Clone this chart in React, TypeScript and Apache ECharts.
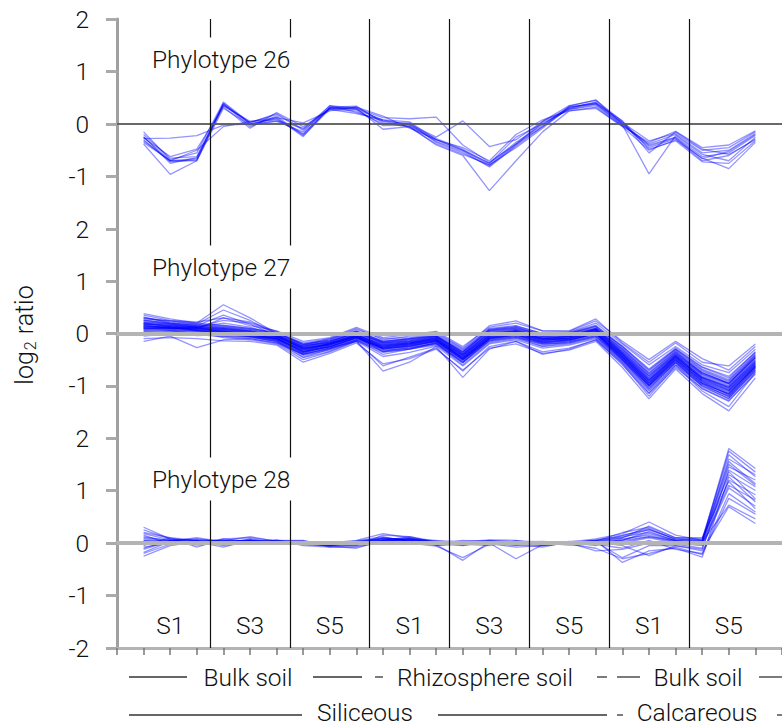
import React, { useEffect, useRef } from 'react';
import * as echarts from 'echarts';

// sample positions along the x axis (8 groups x 3 samples)
const POSITIONS = [1, 2, 3, 4, 5, 6, 7, 8, 9, 10, 11, 12, 13, 14, 15, 16, 17, 18, 19, 20, 21, 22, 23, 24];
const DIVIDERS = [3.5, 6.5, 9.5, 12.5, 15.5, 18.5, 21.5];
const GROUP_LABELS = ['S1', 'S3', 'S5', 'S1', 'S3', 'S5', 'S1', 'S5'];
const GROUP_CENTERS = [2, 5, 8, 11, 14, 17, 20, 23];
const GROUP_LABEL_Y = -1.57;
const PANEL_NAMES = ['Phylotype 26', 'Phylotype 27', 'Phylotype 28'];
const Y_MIN = -2;
const Y_MAX = 2;

const P26: number[][] = [
  [-0.25, -0.70, -0.66, 0.40, 0.00, 0.10, -0.18, 0.30, 0.32, 0.05, -0.05, -0.30, -0.50, -0.78, -0.38, -0.05, 0.30, 0.42, 0.02, -0.40, -0.25, -0.62, -0.55, -0.22],
  [-0.30, -0.72, -0.68, 0.35, 0.05, 0.08, -0.20, 0.32, 0.28, 0.08, -0.02, -0.28, -0.48, -0.75, -0.35, -0.02, 0.33, 0.38, 0.00, -0.45, -0.28, -0.70, -0.60, -0.28],
  [-0.20, -0.65, -0.62, 0.38, -0.05, 0.15, -0.22, 0.28, 0.25, 0.00, 0.02, -0.35, -0.55, -0.80, -0.40, 0.02, 0.28, 0.35, -0.03, -0.38, -0.20, -0.55, -0.50, -0.18],
  [-0.38, -0.96, -0.70, 0.30, -0.02, 0.05, -0.15, 0.35, 0.30, -0.10, -0.05, -0.40, -0.60, -1.27, -0.70, -0.15, 0.25, 0.30, -0.05, -0.50, -0.30, -0.65, -0.85, -0.35],
  [-0.28, -0.27, -0.22, -0.02, 0.00, 0.06, -0.08, 0.30, 0.30, 0.12, 0.10, 0.13, -0.40, -0.73, -0.38, 0.05, 0.35, 0.45, 0.05, -0.55, -0.15, -0.48, -0.58, -0.30],
  [-0.15, -0.68, -0.55, 0.42, 0.02, 0.20, -0.10, 0.35, 0.22, 0.06, 0.00, -0.25, 0.06, -0.43, -0.30, 0.05, 0.30, 0.40, 0.03, -0.32, -0.18, -0.50, -0.45, -0.15],
  [-0.32, -0.70, -0.50, -0.05, 0.05, 0.12, 0.02, 0.25, 0.32, 0.15, -0.08, -0.30, -0.50, -0.75, -0.25, 0.00, 0.28, 0.38, -0.02, -0.95, -0.22, -0.58, -0.70, -0.25],
  [-0.24, -0.75, -0.64, 0.36, 0.03, 0.18, -0.12, 0.30, 0.28, -0.03, -0.02, -0.33, -0.52, -0.82, -0.42, -0.05, 0.34, 0.46, 0.00, -0.42, -0.26, -0.66, -0.52, -0.20],
  [-0.26, -0.62, -0.48, 0.33, -0.08, 0.22, -0.05, 0.28, 0.20, 0.08, 0.04, -0.30, -0.45, -0.70, -0.20, 0.08, 0.25, 0.32, -0.04, -0.35, -0.14, -0.45, -0.40, -0.13],
  [-0.35, -0.70, -0.70, 0.38, 0.00, 0.12, -0.24, 0.32, 0.34, 0.02, -0.06, -0.38, -0.58, -0.78, -0.45, -0.08, 0.32, 0.40, 0.06, -0.48, -0.32, -0.72, -0.75, -0.32],
];

const P27: number[][] = [
  [0.20, 0.15, 0.12, 0.10, 0.05, -0.05, -0.28, -0.18, -0.02, -0.20, -0.15, -0.08, -0.40, 0.02, 0.05, -0.08, -0.05, 0.08, -0.35, -0.85, -0.40, -0.80, -1.00, -0.50],
  [0.10, 0.08, 0.05, 0.00, -0.05, -0.10, -0.35, -0.25, -0.08, -0.30, -0.25, -0.15, -0.50, -0.10, -0.02, -0.15, -0.12, 0.00, -0.45, -0.95, -0.50, -0.90, -1.10, -0.60],
  [0.38, 0.28, 0.20, 0.55, 0.30, 0.00, -0.22, -0.10, 0.05, -0.15, -0.10, -0.05, -0.35, 0.05, 0.10, -0.02, 0.00, 0.12, -0.25, -0.70, -0.30, -0.65, -0.85, -0.35],
  [0.30, 0.22, 0.18, 0.45, 0.25, -0.02, -0.25, -0.15, 0.00, -0.18, -0.12, -0.06, -0.38, 0.00, 0.06, -0.05, -0.02, 0.10, -0.30, -0.78, -0.35, -0.75, -0.95, -0.42],
  [0.25, 0.20, 0.15, 0.35, 0.18, -0.04, -0.30, -0.20, -0.04, -0.22, -0.18, -0.10, -0.42, -0.02, 0.04, -0.10, -0.06, 0.06, -0.38, -0.88, -0.42, -0.82, -1.02, -0.52],
  [0.05, 0.05, 0.00, -0.05, -0.08, -0.15, -0.45, -0.30, -0.12, -0.40, -0.30, -0.20, -0.60, -0.18, -0.10, -0.25, -0.20, -0.08, -0.55, -1.10, -0.60, -1.00, -1.25, -0.70],
  [-0.15, -0.05, -0.27, -0.12, -0.10, -0.18, -0.40, -0.28, -0.15, -0.72, -0.55, -0.25, -0.84, -0.30, -0.15, -0.40, -0.30, -0.12, -0.60, -1.15, -0.65, -1.05, -1.28, -0.78],
  [0.18, 0.14, 0.10, 0.08, 0.02, -0.06, -0.28, -0.22, -0.06, -0.28, -0.22, -0.14, -0.46, -0.06, 0.00, -0.12, -0.10, 0.04, -0.42, -0.92, -0.46, -0.86, -1.06, -0.56],
  [0.22, 0.18, 0.14, 0.12, 0.08, -0.02, -0.20, -0.12, 0.08, -0.10, -0.08, 0.00, -0.30, 0.10, 0.15, 0.00, 0.02, 0.20, -0.20, -0.60, -0.25, -0.60, -0.75, -0.30],
  [0.12, 0.10, 0.06, 0.02, -0.02, -0.12, -0.38, -0.28, -0.10, -0.32, -0.28, -0.18, -0.52, -0.12, -0.06, -0.20, -0.16, -0.04, -0.50, -1.00, -0.52, -0.95, -1.15, -0.62],
  [-0.05, 0.00, 0.02, -0.08, -0.12, -0.20, -0.50, -0.35, -0.15, -0.62, -0.45, -0.28, -0.72, -0.25, -0.15, -0.35, -0.28, -0.12, -0.58, -1.20, -0.62, -1.10, -1.40, -0.75],
  [0.28, 0.24, 0.18, 0.15, 0.10, 0.00, -0.18, -0.10, 0.10, -0.12, -0.05, 0.02, -0.28, 0.15, 0.24, 0.05, 0.05, 0.28, -0.18, -0.55, -0.18, -0.55, -0.62, -0.20],
  [0.15, 0.10, 0.08, 0.04, 0.00, -0.10, -0.32, -0.25, -0.08, -0.26, -0.20, -0.12, -0.44, -0.04, 0.02, -0.14, -0.08, 0.06, -0.40, -0.95, -0.45, -0.88, -1.08, -0.58],
  [0.08, 0.12, 0.10, 0.06, 0.02, -0.08, -0.35, -0.18, -0.02, -0.24, -0.18, -0.10, -0.48, -0.08, 0.00, -0.10, -0.10, 0.02, -0.44, -0.98, -0.48, -0.92, -1.12, -0.64],
  [0.20, 0.16, 0.12, 0.20, 0.12, -0.02, -0.26, -0.16, 0.02, -0.18, -0.14, -0.06, -0.38, 0.04, 0.08, -0.06, -0.04, 0.10, -0.32, -0.80, -0.38, -0.78, -0.98, -0.48],
  [0.00, 0.02, -0.04, -0.02, -0.06, -0.14, -0.42, -0.32, -0.14, -0.36, -0.30, -0.22, -0.56, -0.16, -0.08, -0.24, -0.18, -0.06, -0.52, -1.05, -0.56, -0.98, -1.20, -0.68],
  [0.32, 0.20, 0.16, 0.12, 0.06, -0.04, -0.24, -0.14, 0.00, -0.16, -0.12, -0.04, -0.36, 0.06, 0.12, -0.04, 0.00, 0.14, -0.28, -0.75, -0.32, -0.70, -0.90, -0.40],
  [0.14, 0.12, 0.08, 0.06, 0.00, -0.08, -0.30, -0.20, -0.06, -0.24, -0.20, -0.12, -0.46, -0.06, 0.00, -0.14, -0.08, 0.04, -0.40, -0.90, -0.44, -0.84, -1.04, -0.54],
  [-0.10, -0.08, -0.10, -0.14, -0.15, -0.22, -0.55, -0.38, -0.18, -0.58, -0.48, -0.30, -0.70, -0.28, -0.20, -0.38, -0.32, -0.15, -0.65, -1.25, -0.68, -1.15, -1.48, -0.85],
  [0.18, 0.14, 0.12, 0.25, 0.20, 0.02, -0.22, -0.18, -0.02, -0.20, -0.16, -0.08, -0.40, 0.00, 0.04, -0.10, -0.06, 0.08, -0.36, -0.82, -0.40, -0.78, -0.96, -0.46],
  [0.25, 0.18, 0.12, 0.08, 0.04, -0.06, -0.28, -0.20, -0.04, -0.22, -0.16, -0.10, -0.42, -0.02, 0.06, -0.08, -0.06, 0.08, -0.38, -0.85, -0.38, -0.75, -0.95, -0.45],
  [0.10, 0.06, 0.04, 0.00, -0.04, -0.12, -0.36, -0.26, -0.10, -0.30, -0.24, -0.16, -0.50, -0.10, -0.04, -0.18, -0.14, -0.02, -0.48, -1.00, -0.50, -0.92, -1.18, -0.66],
  [0.35, 0.25, 0.22, 0.30, 0.15, 0.05, -0.15, -0.08, 0.12, -0.08, -0.02, 0.04, -0.25, 0.12, 0.20, 0.05, 0.04, 0.24, -0.15, -0.50, -0.15, -0.48, -0.70, -0.25],
  [0.16, 0.12, 0.10, 0.05, -0.02, -0.10, -0.32, -0.22, -0.06, -0.28, -0.22, -0.14, -0.48, -0.06, 0.02, -0.12, -0.10, 0.02, -0.42, -0.92, -0.44, -0.88, -1.10, -0.60],
  [0.02, 0.04, 0.00, -0.04, -0.06, -0.16, -0.40, -0.30, -0.12, -0.34, -0.26, -0.20, -0.54, -0.14, -0.06, -0.22, -0.16, -0.04, -0.50, -1.02, -0.54, -0.96, -1.22, -0.70],
  [0.22, 0.18, 0.14, 0.10, 0.05, -0.04, -0.26, -0.18, -0.02, -0.22, -0.18, -0.08, -0.40, 0.02, 0.08, -0.06, -0.04, 0.08, -0.34, -0.82, -0.36, -0.76, -0.96, -0.46],
  [0.12, 0.08, 0.05, 0.02, -0.03, -0.10, -0.34, -0.24, -0.08, -0.28, -0.22, -0.14, -0.46, -0.08, -0.02, -0.16, -0.12, 0.00, -0.46, -0.96, -0.48, -0.90, -1.14, -0.62],
  [0.08, 0.10, 0.12, 0.02, -0.05, -0.12, -0.38, -0.22, -0.06, -0.35, -0.30, -0.18, -0.55, -0.10, -0.02, -0.18, -0.14, 0.00, -0.50, -1.05, -0.55, -1.00, -1.20, -0.65],
  [0.18, 0.16, 0.12, 0.10, 0.04, -0.06, -0.30, -0.22, -0.04, -0.26, -0.20, -0.10, -0.44, -0.04, 0.04, -0.10, -0.06, 0.06, -0.38, -0.88, -0.42, -0.84, -1.02, -0.52],
  [0.26, 0.20, 0.16, 0.14, 0.08, -0.02, -0.24, -0.16, 0.02, -0.18, -0.14, -0.06, -0.36, 0.06, 0.10, -0.04, -0.02, 0.10, -0.30, -0.76, -0.34, -0.72, -0.92, -0.42],
  [0.06, 0.06, 0.02, -0.02, -0.06, -0.14, -0.40, -0.28, -0.12, -0.34, -0.28, -0.18, -0.56, -0.14, -0.08, -0.20, -0.18, -0.06, -0.52, -1.08, -0.56, -1.02, -1.24, -0.72],
  [0.16, 0.10, 0.08, 0.30, 0.22, 0.04, -0.20, -0.14, 0.04, -0.16, -0.10, -0.04, -0.34, 0.08, 0.12, -0.02, 0.00, 0.14, -0.26, -0.72, -0.30, -0.68, -0.88, -0.38],
  [0.12, 0.14, 0.08, 0.04, 0.00, -0.08, -0.32, -0.20, -0.04, -0.26, -0.20, -0.12, -0.48, -0.08, 0.00, -0.12, -0.10, 0.02, -0.44, -0.94, -0.46, -0.86, -1.08, -0.58],
  [0.20, 0.12, 0.06, 0.02, -0.02, -0.10, -0.34, -0.26, -0.08, -0.30, -0.24, -0.16, -0.50, -0.12, -0.04, -0.18, -0.12, 0.00, -0.46, -0.98, -0.50, -0.94, -1.16, -0.64],
  [0.30, 0.24, 0.20, 0.16, 0.10, 0.02, -0.22, -0.12, 0.04, -0.14, -0.10, -0.02, -0.32, 0.08, 0.14, 0.00, 0.02, 0.16, -0.24, -0.68, -0.28, -0.64, -0.82, -0.36],
  [0.04, 0.00, -0.02, -0.06, -0.10, -0.18, -0.46, -0.34, -0.14, -0.44, -0.36, -0.24, -0.62, -0.20, -0.12, -0.28, -0.22, -0.10, -0.56, -1.14, -0.60, -1.06, -1.30, -0.74],
  [0.14, 0.10, 0.10, 0.08, 0.02, -0.06, -0.28, -0.20, -0.06, -0.24, -0.18, -0.12, -0.42, -0.04, 0.02, -0.10, -0.08, 0.04, -0.40, -0.90, -0.42, -0.84, -1.04, -0.56],
  [0.10, 0.12, 0.06, 0.04, -0.02, -0.10, -0.36, -0.24, -0.08, -0.28, -0.24, -0.14, -0.50, -0.10, -0.02, -0.16, -0.12, 0.00, -0.48, -1.00, -0.52, -0.96, -1.16, -0.62],
];

const P28: number[][] = [
  [0.30, 0.08, 0.05, 0.05, 0.02, 0.00, -0.02, 0.00, 0.05, 0.18, 0.10, 0.02, 0.00, 0.05, 0.02, -0.03, 0.02, 0.08, 0.18, 0.40, 0.15, 0.05, 1.80, 1.42],
  [-0.25, -0.05, 0.02, -0.08, 0.05, 0.02, 0.00, -0.05, -0.02, 0.05, 0.12, 0.00, -0.05, 0.03, -0.05, 0.00, 0.02, 0.00, 0.10, 0.32, 0.10, 0.08, 1.68, 1.26],
  [0.20, 0.10, -0.08, 0.08, 0.10, 0.04, 0.03, -0.02, 0.02, 0.10, 0.05, -0.02, 0.05, 0.02, 0.00, -0.05, 0.00, 0.05, 0.15, 0.25, 0.08, 0.05, 1.55, 1.13],
  [-0.18, 0.03, 0.10, 0.02, 0.00, 0.05, 0.05, -0.08, -0.08, 0.02, 0.08, 0.05, -0.02, -0.05, 0.04, 0.02, -0.02, 0.02, -0.05, -0.24, -0.05, -0.12, 1.39, 1.07],
  [0.10, 0.05, 0.00, 0.04, 0.12, 0.03, 0.02, -0.03, 0.04, 0.12, 0.02, -0.03, -0.33, 0.02, -0.02, -0.08, 0.02, -0.02, 0.05, 0.12, 0.05, -0.02, 1.36, 0.84],
  [0.05, 0.00, 0.02, 0.00, 0.05, -0.02, 0.00, -0.06, -0.10, 0.05, 0.10, -0.05, -0.02, 0.00, -0.30, -0.03, 0.00, 0.05, -0.37, -0.15, -0.10, -0.27, 1.26, 0.78],
  [-0.05, 0.10, 0.05, -0.05, 0.02, 0.06, -0.05, -0.08, -0.05, 0.15, 0.12, 0.03, 0.02, 0.06, 0.05, -0.02, 0.02, 0.03, 0.20, 0.30, 0.10, 0.10, 1.17, 0.65],
  [0.15, -0.02, -0.02, 0.05, 0.05, 0.00, 0.02, -0.04, 0.00, 0.08, 0.08, 0.00, -0.04, 0.02, 0.00, 0.00, -0.04, -0.02, -0.10, 0.05, -0.12, -0.20, 0.94, 0.59],
  [-0.10, 0.05, 0.08, 0.02, -0.02, 0.04, 0.04, -0.02, -0.06, 0.03, 0.02, 0.04, 0.03, 0.04, 0.02, 0.03, 0.00, 0.06, 0.12, 0.20, 0.05, 0.02, 0.72, 0.46],
  [0.00, 0.02, 0.00, 0.08, 0.02, 0.02, -0.03, -0.06, 0.02, 0.06, 0.06, -0.04, 0.00, 0.00, 0.02, -0.02, 0.03, 0.02, -0.28, -0.05, -0.05, -0.15, 0.69, 0.37],
  [0.25, 0.08, 0.04, -0.02, 0.08, 0.00, 0.00, 0.00, -0.04, 0.10, 0.04, 0.02, -0.03, -0.02, -0.04, 0.00, 0.01, -0.05, 0.08, 0.15, 0.02, 0.00, 1.45, 1.20],
  [-0.20, -0.02, 0.06, 0.03, 0.00, 0.03, 0.02, -0.03, 0.00, 0.04, 0.03, 0.00, 0.02, 0.02, 0.03, -0.04, 0.00, 0.04, 0.00, 0.10, 0.00, -0.05, 1.05, 0.70],
  [0.05, 0.03, -0.04, 0.00, 0.06, -0.02, 0.01, -0.04, -0.03, 0.02, 0.00, -0.06, -0.28, -0.02, -0.02, 0.00, -0.02, -0.10, -0.30, -0.20, -0.08, -0.22, 0.85, 0.55],
  [0.00, 0.06, 0.02, 0.05, 0.03, 0.05, -0.02, -0.05, 0.03, 0.08, 0.07, 0.02, 0.01, 0.03, 0.01, 0.02, 0.02, 0.00, 0.05, 0.22, 0.04, 0.02, 1.60, 1.30],
  [-0.08, 0.00, 0.03, -0.03, 0.02, -0.01, 0.03, -0.02, -0.01, 0.05, 0.05, -0.02, 0.00, -0.01, -0.08, -0.05, 0.00, -0.15, -0.12, 0.00, -0.02, -0.10, 1.20, 0.92],
  [0.12, 0.04, 0.05, 0.02, 0.00, 0.01, 0.00, -0.01, 0.02, 0.02, 0.09, 0.01, -0.02, 0.01, 0.03, 0.01, -0.01, 0.01, 0.14, 0.28, 0.06, 0.06, 1.30, 1.00],
  [0.08, 0.02, 0.03, 0.00, 0.04, 0.02, 0.01, -0.03, 0.00, 0.06, 0.06, 0.00, 0.00, 0.02, 0.00, -0.02, 0.01, 0.02, 0.06, 0.18, 0.04, 0.03, 1.50, 1.10],
  [-0.12, 0.04, 0.00, 0.03, 0.02, 0.00, 0.02, -0.04, -0.02, 0.04, 0.04, -0.02, -0.02, 0.02, -0.02, -0.01, 0.00, 0.03, 0.02, 0.12, 0.02, 0.00, 1.10, 0.82],
  [0.18, 0.06, 0.02, 0.02, 0.06, 0.02, -0.01, -0.02, 0.03, 0.09, 0.07, 0.01, 0.01, 0.03, 0.01, 0.00, 0.01, 0.04, 0.10, 0.26, 0.08, 0.04, 1.75, 1.35],
];

const PANELS = [P26, P27, P28];

const FONT = 'Roboto, "Liberation Sans", sans-serif';
const FONT_SIZE = 24.5;
const TEXT_COLOR = '#111';
const LINE_COLOR = 'rgba(0, 0, 255, 0.42)';

export default function App() {
  const ref = useRef<HTMLDivElement>(null);

  useEffect(() => {
    const chart = echarts.init(ref.current!, null, { renderer: 'svg' });

    const grids = [
      { left: 117, top: 19, width: 667, height: 210 },
      { left: 117, top: 229, width: 667, height: 209 },
      { left: 117, top: 438, width: 667, height: 210 },
    ];

    const baseX = {
      type: 'value',
      min: 0,
      max: 25,
      interval: 1,
      axisLabel: { show: false },
      splitLine: { show: false },
    };

    const xAxis: any[] = [
      { ...baseX, gridIndex: 0, position: 'top', axisLine: { lineStyle: { color: '#444', width: 1.5 } }, axisTick: { show: false } },
      { ...baseX, gridIndex: 1, position: 'top', axisLine: { lineStyle: { color: '#b4b4b4', width: 4 } }, axisTick: { show: false } },
      { ...baseX, gridIndex: 2, position: 'top', axisLine: { lineStyle: { color: '#b4b4b4', width: 4 } }, axisTick: { show: false } },
      {
        ...baseX, gridIndex: 2, position: 'bottom',
        axisLine: { lineStyle: { color: '#b4b4b4', width: 3 } },
        axisTick: { show: true, length: 7, lineStyle: { color: '#777', width: 1.5 } },
      },
    ];

    const yAxis: any[] = grids.map((_, gi) => ({
      type: 'value',
      gridIndex: gi,
      min: Y_MIN,
      max: Y_MAX,
      interval: 1,
      axisLine: { show: true, lineStyle: { color: '#a0a0a0', width: 3 } },
      axisTick: { show: true, length: 11, lineStyle: { color: '#aaa', width: 3 } },
      splitLine: { show: false },
      axisLabel: {
        showMinLabel: gi === 2,
        margin: 28,
        fontSize: FONT_SIZE,
        fontFamily: FONT,
        fontWeight: 300,
        color: TEXT_COLOR,
      },
    }));

    const xIdx = [0, 1, 3];
    const series: any[] = [];
    PANELS.forEach((lines, pi) => {
      lines.forEach((vals, li) => {
        series.push({
          type: 'line',
          name: `${PANEL_NAMES[pi]}-${li}`,
          xAxisIndex: xIdx[pi],
          yAxisIndex: pi,
          data: vals.map((v, i) => [POSITIONS[i], v]),
          symbol: 'none',
          silent: true,
          z: 2,
          lineStyle: { color: LINE_COLOR, width: 1.3 },
        });
      });
      series.push({
        type: 'line',
        xAxisIndex: xIdx[pi],
        yAxisIndex: pi,
        data: [],
        silent: true,
        z: 4,
        markLine: {
          silent: true,
          symbol: 'none',
          label: { show: false },
          data: [
            {
              yAxis: 0,
              lineStyle: pi === 0
                ? { color: '#666', width: 1.5, type: 'solid' }
                : { color: '#b4b4b4', width: 4, type: 'solid' },
            },
            ...DIVIDERS.map((d) => ({ xAxis: d, lineStyle: { color: '#111', width: 1.2, type: 'solid' } })),
          ],
        },
      });
    });

    series.push({
      type: 'scatter',
      xAxisIndex: 3,
      yAxisIndex: 2,
      symbolSize: 1,
      silent: true,
      z: 6,
      itemStyle: { color: 'rgba(0,0,0,0)', opacity: 1 },
      data: GROUP_CENTERS.map((c, i) => ({ value: [c, GROUP_LABEL_Y], name: GROUP_LABELS[i] })),
      label: {
        show: true,
        position: 'inside',
        formatter: (p: any) => p.name,
        fontSize: FONT_SIZE,
        fontFamily: FONT,
        fontWeight: 300,
        color: TEXT_COLOR,
        opacity: 1,
        textBorderWidth: 0,
      },
    });

    const textEl = (text: string, x: number, y: number) => ({
      type: 'text',
      x,
      y,
      z: 100,
      silent: true,
      style: {
        text,
        fill: TEXT_COLOR,
        font: `300 ${FONT_SIZE}px ${FONT}`,
        align: 'center',
        verticalAlign: 'middle',
      },
    });

    const hline = (x1: number, x2: number, y: number) => ({
      type: 'line',
      z: 100,
      silent: true,
      shape: { x1, y1: y, x2, y2: y },
      style: { stroke: '#333', lineWidth: 1.3 },
    });

    const panelLabelY = [59, 267, 479];
    const graphic: any[] = [
      ...PANEL_NAMES.map((n, i) => ({
        type: 'text',
        x: 140,
        y: panelLabelY[i],
        z: 100,
        silent: true,
        style: {
          text: n,
          fill: TEXT_COLOR,
          font: `300 ${FONT_SIZE}px ${FONT}`,
          align: 'left',
          verticalAlign: 'middle',
          backgroundColor: '#fff',
          padding: [9, 12, 9, 12],
        },
      })),
      {
        type: 'text',
        x: 24,
        y: 335,
        rotation: Math.PI / 2,
        z: 100,
        silent: true,
        style: {
          text: '{a|log}{b|2}{a| ratio}',
          align: 'center',
          verticalAlign: 'middle',
          rich: {
            a: { fontSize: 25, fontFamily: FONT, fontWeight: 300, fill: TEXT_COLOR, color: TEXT_COLOR },
            b: { fontSize: 16, fontFamily: FONT, fontWeight: 300, fill: TEXT_COLOR, color: TEXT_COLOR, padding: [13, 1, 0, 1] },
          },
        },
      },
      // bracket row 1
      hline(129, 187, 677),
      textEl('Bulk soil', 248, 677),
      hline(313, 362, 677),
      hline(375, 383, 677),
      textEl('Rhizosphere soil', 485, 677),
      hline(597, 607, 677),
      hline(617, 640, 677),
      textEl('Bulk soil', 698, 677),
      hline(759, 782, 677),
      // bracket row 2
      hline(129, 302, 715),
      textEl('Siliceous', 365, 712),
      hline(438, 607, 715),
      hline(617, 623, 715),
      textEl('Calcareous', 697, 712),
      hline(777, 782, 715),
    ];

    chart.setOption({
      animation: false,
      grid: grids,
      xAxis,
      yAxis,
      series,
      graphic,
    });

    return () => chart.dispose();
  }, []);

  return <div ref={ref} style={{ position: 'absolute', left: 0, top: 0, width: 782, height: 726, background: '#fff' }} />;
}
